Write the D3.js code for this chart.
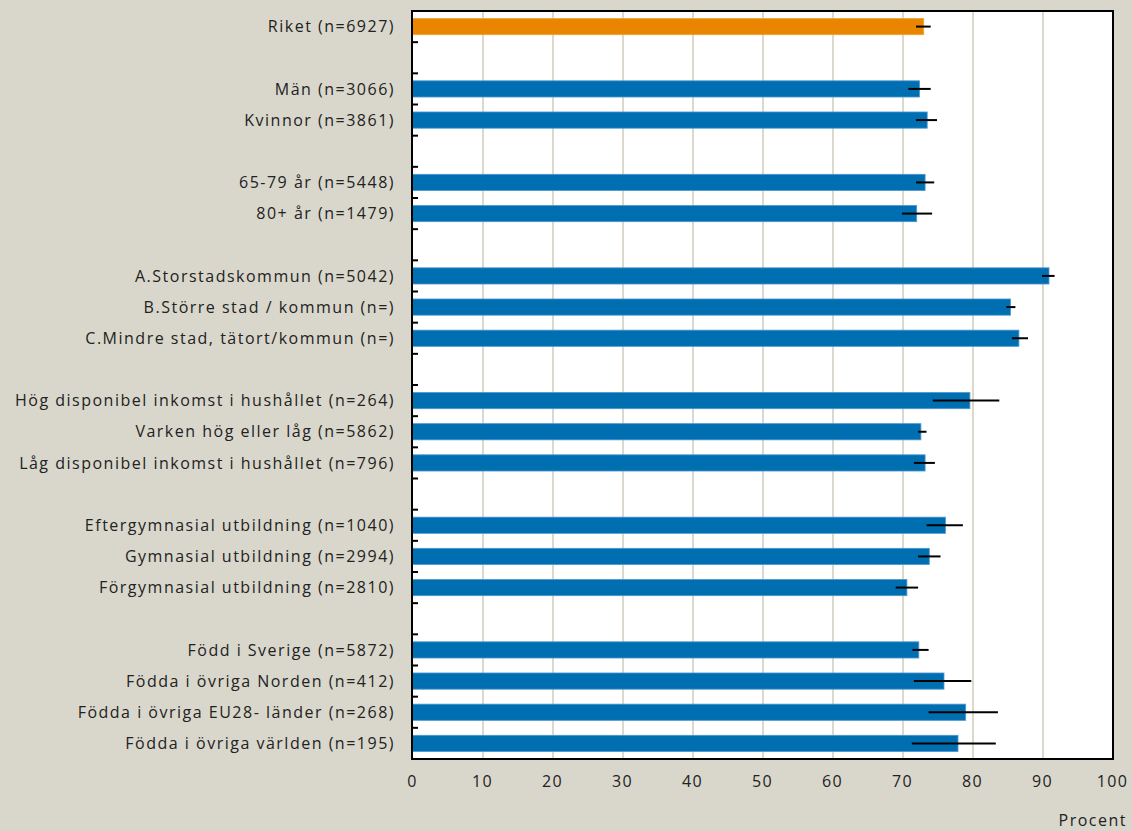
<!DOCTYPE html>
<meta charset="utf-8">
<style>
body { margin: 0; background: #d9d7cb; }
svg { display: block; }
text { font-family: "Open Sans", sans-serif; fill: #222; }
.lbl { font-size: 16px; letter-spacing: 1.5px; }
.axis text { font-size: 16px; letter-spacing: 1.3px; }
.axis path, .axis line { display: none; }
.grid line { stroke: #dcd9cc; stroke-width: 2px; }
.err { stroke: #000; stroke-width: 2px; }
</style>
<body>
<div id="chart"></div>
<script src="https://cdn.jsdelivr.net/npm/d3@7"></script>
<script>
// rows top to bottom, null = empty spacer row
var labels = ["Riket (n=6927)", null,
  "Män (n=3066)", "Kvinnor (n=3861)", null,
  "65-79 år (n=5448)", "80+ år (n=1479)", null,
  "A.Storstadskommun (n=5042)", "B.Större stad / kommun (n=)", "C.Mindre stad, tätort/kommun (n=)", null,
  "Hög disponibel inkomst i hushållet (n=264)", "Varken hög eller låg (n=5862)", "Låg disponibel inkomst i hushållet (n=796)", null,
  "Eftergymnasial utbildning (n=1040)", "Gymnasial utbildning (n=2994)", "Förgymnasial utbildning (n=2810)", null,
  "Född i Sverige (n=5872)", "Födda i övriga Norden (n=412)", "Födda i övriga EU28- länder (n=268)", "Födda i övriga världen (n=195)"];
var values = [73.1, null, 72.5, 73.6, null, 73.3, 72.1, null, 91.0, 85.5, 86.7, null,
  79.7, 72.7, 73.3, null, 76.2, 73.9, 70.7, null, 72.4, 76.0, 79.1, 78.0];
var lower = [72.0, null, 70.9, 72.0, null, 72.0, 70.0, null, 90.0, 84.9, 85.7, null,
  74.4, 72.3, 71.7, null, 73.5, 72.3, 69.1, null, 71.5, 71.7, 73.8, 71.4];
var upper = [74.1, null, 74.1, 75.0, null, 74.6, 74.3, null, 91.8, 86.2, 88.0, null,
  83.9, 73.5, 74.7, null, 78.7, 75.5, 72.3, null, 73.8, 79.9, 83.7, 83.4];
var xTicks = [0, 10, 20, 30, 40, 50, 60, 70, 80, 90, 100];

var W = 1132, H = 831,
    plotL = 412, plotR = 1112, plotT = 11, plotB = 759;

var svg = d3.select("#chart").append("svg").attr("width", W).attr("height", H);

var x = d3.scaleLinear().domain([0, 100]).range([plotL, plotR]);
var y = d3.scaleBand().domain(d3.range(labels.length)).range([plotT, plotB])
  .paddingInner(0.48).paddingOuter(0.24);
var yb = d3.scaleLinear().domain([0, labels.length]).range([plotT, plotB]);

svg.append("rect").attr("x", plotL).attr("y", plotT).attr("width", plotR - plotL + 1)
  .attr("height", plotB - plotT).attr("fill", "#fff");

svg.append("g").attr("class", "grid").selectAll("line")
  .data(xTicks.slice(1, -1)).enter().append("line")
  .attr("x1", function(d) { return x(d) + 1; }).attr("x2", function(d) { return x(d) + 1; })
  .attr("y1", plotT).attr("y2", plotB);

var rows = d3.range(labels.length).filter(function(i) { return values[i] != null; });

svg.append("g").selectAll("rect").data(rows).enter().append("rect")
  .attr("x", x(0))
  .attr("y", function(i) { return y(i); })
  .attr("width", function(i) { return x(values[i]) - x(0); })
  .attr("height", y.bandwidth())
  .attr("fill", function(i) { return i == 0 ? "#ea8500" : "#006fb2"; })
  .attr("stroke", function(i) { return i == 0 ? "#f0a23c" : "#4f97cf"; })
  .attr("stroke-width", 0.8);

svg.append("g").selectAll("line").data(rows).enter().append("line")
  .attr("class", "err")
  .attr("x1", function(i) { return x(lower[i]); })
  .attr("x2", function(i) { return x(upper[i]); })
  .attr("y1", function(i) { return y(i) + y.bandwidth() / 2; })
  .attr("y2", function(i) { return y(i) + y.bandwidth() / 2; });

// frame
svg.append("rect").attr("x", plotL).attr("y", plotT).attr("width", plotR - plotL + 1)
  .attr("height", plotB - plotT).attr("fill", "none").attr("stroke", "#000").attr("stroke-width", 2);

// inner ticks between rows
svg.append("g").selectAll("line").data(d3.range(1, labels.length)).enter().append("line")
  .attr("x1", plotL).attr("x2", plotL + 6)
  .attr("y1", function(d) { return yb(d); }).attr("y2", function(d) { return yb(d); })
  .attr("stroke", "#000").attr("stroke-width", 2);

svg.append("g").selectAll("text").data(rows).enter().append("text")
  .attr("class", "lbl")
  .attr("x", 395)
  .attr("y", function(i) { return y(i) + y.bandwidth() / 2; })
  .attr("dy", "0.35em")
  .attr("text-anchor", "end")
  .text(function(i) { return labels[i]; });

svg.append("g").attr("class", "axis")
  .attr("transform", "translate(0," + plotB + ")")
  .call(d3.axisBottom(x).tickValues(xTicks).tickSize(0).tickPadding(17));

svg.append("text").attr("class", "lbl").attr("x", 1127).attr("y", 820)
  .attr("dy", "0.35em").attr("text-anchor", "end").text("Procent");
</script>
</body>
